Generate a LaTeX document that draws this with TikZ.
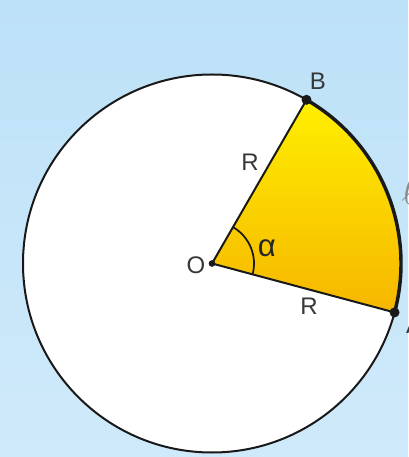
\documentclass[tikz,border=0pt]{standalone}
\usepackage{fontspec}
\setmainfont{Liberation Sans}
\usepackage{tikz}

\definecolor{skyblue}{RGB}{189,225,248}
\definecolor{skylight}{RGB}{207,234,250}
\definecolor{sunyellow}{RGB}{255,239,0}
\definecolor{sunorange}{RGB}{246,182,0}
\definecolor{inkgray}{RGB}{55,55,55}

\begin{document}
\begin{tikzpicture}[x=0.75pt, y=0.75pt, font=\fontsize{18}{20}\selectfont,
    dot/.style={circle, fill=black!90, inner sep=0pt, minimum size=7.5pt},
    lbl/.style={text=inkgray}]
    % background
    \fill[top color=skyblue, bottom color=skylight] (0,0) rectangle (408,457);
    \useasboundingbox (0,0) rectangle (408,457);

    % centre and the two points on the circle
    \coordinate (O) at (212,193.5);
    \path (O) ++(60:189) coordinate (B);
    \path (O) ++(-15:189) coordinate (A);

    % circle
    \draw[line width=1.5pt, fill=white, draw=black!90] (O) circle (189);

    % sector
    \fill[top color=sunyellow, bottom color=sunorange]
      (O) -- (A) arc[start angle=-15, end angle=60, radius=189] -- cycle;
    \draw[line width=1.5pt, draw=black!90] (A) -- (O) -- (B);
    \draw[line width=2.6pt, draw=black!90]
      (A) arc[start angle=-15, end angle=60, radius=189];

    % angle
    \draw[line width=1.3pt, draw=black!90]
      (O) ++(-15:42) arc[start angle=-15, end angle=60, radius=42];

    % points
    \node[dot] (dotA) at (A) {};
    \node[dot] (dotB) at (B) {};
    \node[dot, minimum size=5pt] (dotO) at (O) {};

    % labels
    \node[lbl] (labB) at (318,376) {B};
    \node[lbl] (labA) at (414,132) {A};
    \node[lbl] (labO) at (196,191.5) {O};
    \node[lbl] (labRup) at (250,295) {R};
    \node[lbl] (labRlow) at (309,150.5) {R};
    \node[text=black!85] (labalpha) at (267,209) {\scalebox{1.3}{α}};
    \node[text=black!45] (labell) at (410,267) {\scalebox{1.8}{$\ell$}};
  \end{tikzpicture}
\end{document}
